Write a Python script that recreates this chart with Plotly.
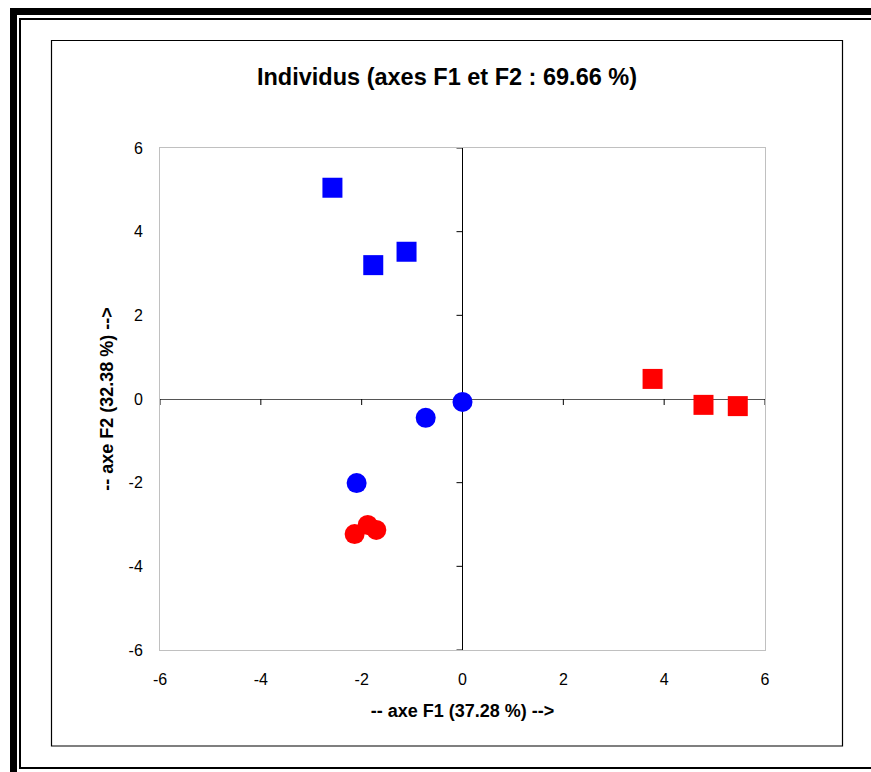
import plotly.graph_objects as go

# ---- data ----
blue_sq_f1 = [-2.58, -1.77, -1.11]
blue_sq_f2 = [5.05, 3.20, 3.52]
blue_ci_f1 = [0.00, -0.73, -2.10]
blue_ci_f2 = [-0.07, -0.45, -2.01]
red_ci_f1 = [-2.14, -1.88, -1.71]
red_ci_f2 = [-3.23, -3.01, -3.13]
red_sq_f1 = [3.77, 4.78, 5.46]
red_sq_f2 = [0.48, -0.14, -0.17]

tick_vals = [-6, -4, -2, 0, 2, 4, 6]
tick_text = ["-6", "-4", "-2", "0", "2", "4", "6"]
title_text = "Individus (axes F1 et F2 : 69.66 %)"
x_title = "-- axe F1 (37.28 %) -->"
y_title = "-- axe F2 (32.38 %) -->"

W, H = 871, 772
L, R, T, B = 160, 106, 148, 122
PW, PH = W - L - R, H - T - B

def px(x):
    return (x - L) / PW

def py(y):
    return (H - B - y) / PH

FONT = "Liberation Sans, Arial, sans-serif"

fig = go.Figure()
groups = [
    (blue_sq_f1, blue_sq_f2, "square", "#0000ff"),
    (blue_ci_f1, blue_ci_f2, "circle", "#0000ff"),
    (red_ci_f1, red_ci_f2, "circle", "#ff0000"),
    (red_sq_f1, red_sq_f2, "square", "#ff0000"),
]
for xs, ys, sym, col in groups:
    fig.add_trace(go.Scatter(
        x=xs, y=ys, mode="markers",
        marker=dict(symbol=sym, size=20, color=col, line=dict(width=0)),
        showlegend=False, hoverinfo="skip"))

shapes = []
# tick marks on the zero lines
for v in tick_vals:
    if v == 0:
        continue
    shapes.append(dict(type="line", xref="x", yref="y", ysizemode="pixel",
                       yanchor=0, x0=v, x1=v, y0=0, y1=-6,
                       line=dict(color="#000000", width=1)))
    shapes.append(dict(type="line", xref="x", yref="y", xsizemode="pixel",
                       xanchor=0, y0=v, y1=v, x0=0, x1=-6,
                       line=dict(color="#000000", width=1)))

# outer decorative frames (pixel positions converted to paper coordinates)
def rect(x0, y0, x1, y1, color):
    return dict(type="rect", xref="paper", yref="paper", layer="above",
                x0=px(x0), x1=px(x1), y0=py(y1), y1=py(y0),
                fillcolor=color, line=dict(width=0))

shapes += [
    rect(10, 8, 17, 772, "#000000"),      # thick left
    rect(10, 8, 871, 15, "#000000"),      # thick top
    rect(19, 18, 21, 769, "#000000"),     # thin left
    rect(19, 18, 871, 20, "#000000"),     # thin top
    rect(19, 767, 871, 769, "#000000"),   # bottom
]
# inner chart-area box
shapes.append(dict(type="rect", xref="paper", yref="paper", layer="below",
                   x0=px(51.5), x1=px(842.5), y0=py(746), y1=py(40.5),
                   line=dict(color="#000000", width=1.2)))

fig.update_layout(
    width=W, height=H,
    margin=dict(l=L, r=R, t=T, b=B),
    paper_bgcolor="white", plot_bgcolor="white",
    font=dict(family=FONT, color="black", size=16),
    title=dict(text="<b>" + title_text + "</b>", x=px(447), xref="paper",
               xanchor="center", y=1 - 77 / H, yanchor="middle",
               font=dict(size=23.5, family=FONT, color="black")),
    shapes=shapes,
)
fig.update_xaxes(
    range=[-6, 6], tickvals=tick_vals, ticktext=tick_text, ticks="",
    showgrid=False,
    zeroline=True, zerolinecolor="#000000", zerolinewidth=1,
    showline=True, mirror=True, linecolor="#c0c0c0", linewidth=1,
    tickfont=dict(size=16), ticklabelstandoff=15,
    title=dict(text="<b>" + x_title + "</b>", font=dict(size=18), standoff=17),
)
fig.update_yaxes(
    range=[-6, 6], tickvals=tick_vals, ticktext=tick_text, ticks="",
    showgrid=False,
    zeroline=True, zerolinecolor="#555555", zerolinewidth=1,
    showline=True, mirror=True, linecolor="#c0c0c0", linewidth=1,
    tickfont=dict(size=16), ticklabelstandoff=13,
    title=dict(text="<b>" + y_title + "</b>", font=dict(size=18), standoff=10),
)

fig.write_html("out.html")
